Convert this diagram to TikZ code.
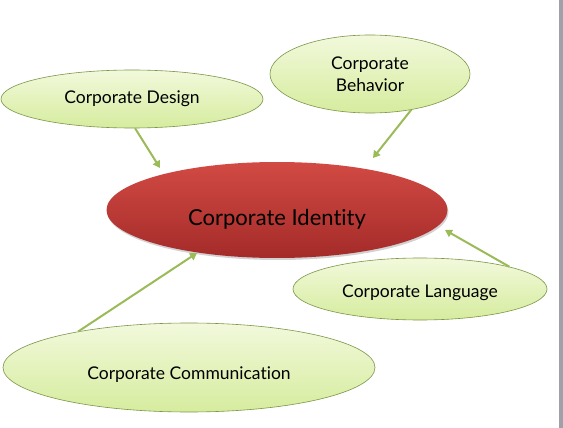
\documentclass[tikz,border=0pt]{standalone}
\usepackage{fontspec}
\setmainfont{Lato}[Ligatures=NoCommon]
\usetikzlibrary{shapes.geometric,shadows,arrows.meta}
\definecolor{leafline}{HTML}{9BBB59}
\definecolor{leaftop}{HTML}{F2F9DC}
\definecolor{leafbot}{HTML}{D6EC9E}
\definecolor{coretop}{HTML}{D24A44}
\definecolor{corebot}{HTML}{A42B29}
\definecolor{arr}{HTML}{9BBB59}
\definecolor{edge}{HTML}{A0A0A8}
\begin{document}
\begin{tikzpicture}[x=1pt,y=-1pt,
  leaf/.style={ellipse,draw=leafline!80!black,line width=0.6pt,top color=leaftop,bottom color=leafbot,inner sep=0pt,font=\fontsize{17.5}{22}\selectfont,align=center},
  base/.style={text height=#1,text depth=0pt},
  core/.style={ellipse,draw=none,top color=coretop,bottom color=corebot,inner sep=0pt,font=\fontsize{22}{26}\selectfont,drop shadow={shadow xshift=1pt,shadow yshift=-2pt,opacity=0.35}},
  link/.style={draw=arr,line width=2pt,-{Triangle[length=7pt,width=8pt]}}]
\useasboundingbox (0,0) rectangle (563,428);
\fill[white] (0,0) rectangle (563,428);
\fill[edge] (559,0) rectangle (563,428);
\node[core,base=30pt,minimum width=341pt,minimum height=96pt] (ci) at (277,210) {Corporate Identity};
\node[leaf,base=10pt,minimum width=262pt,minimum height=58pt] (cd) at (132,99) {Corporate Design};
\node[leaf,minimum width=200pt,minimum height=78pt] (cb) at (370,74) {Corporate\\Behavior};
\node[leaf,base=16pt,minimum width=254pt,minimum height=62pt] (cl) at (420,289) {Corporate Language};
\node[leaf,base=23pt,minimum width=372pt,minimum height=89pt] (cc) at (189,367.5) {Corporate Communication};
\coordinate (dtip) at (160,168);
\coordinate (btip) at (373,158);
\coordinate (ltip) at (445,230);
\coordinate (ctip) at (197,253);
\draw[link] (cd.-84) -- (dtip);
\draw[link] (cb.-41) -- (btip);
\draw[link] (cl.14) -- (ltip);
\draw[link] (cc.162) -- (ctip);
\end{tikzpicture}
\end{document}
